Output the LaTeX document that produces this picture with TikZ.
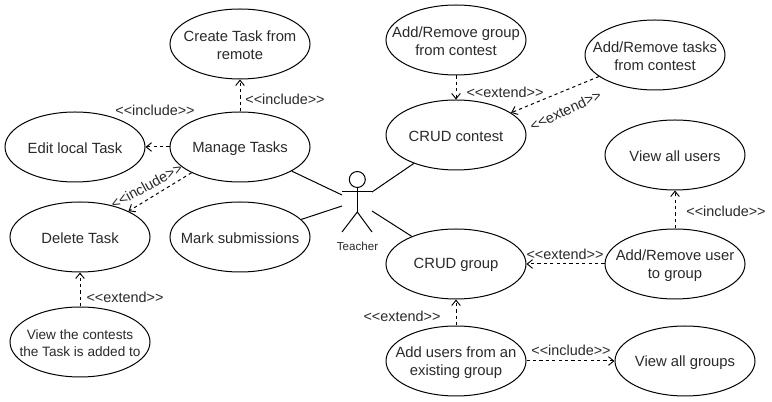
\documentclass[tikz,border=0pt]{standalone}
\usepackage{fontspec}
\setmainfont{Liberation Sans}
\usetikzlibrary{arrows.meta,shapes.geometric}
\definecolor{txt}{HTML}{2A2A2A}
\newcommand{\smallerfont}{\fontsize{10.2pt}{12.75pt}\selectfont}
\tikzset{
  x=0.75pt,y=-0.75pt,
  usecase/.style={draw=black,line width=0.75pt,ellipse,minimum width=105pt,minimum height=52.5pt,inner sep=0pt},
  uctext/.style={align=center,inner sep=0pt,yshift=-1pt,font=\fontsize{11.1pt}{13.5pt}\selectfont,text=txt},
  dep/.style={draw=black,line width=0.75pt,dash pattern=on 2.4pt off 2.4pt,-{Straight Barb[length=4pt,width=6.5pt,line width=0.7pt]}},
  assoc/.style={draw=black,line width=0.75pt},
  lbl/.style={font=\fontsize{10.8pt}{12pt}\selectfont,text=txt,inner sep=0pt,yshift=-0.7pt},
  limb/.style={draw=black,line width=0.75pt},
}
\newcommand{\usecasenode}[3]{%
  \node[usecase] (#1) at #2 {};
  \node[uctext] (#1-text) at (#1.center) {#3};
}
\begin{document}
\begin{tikzpicture}
\useasboundingbox (0,0) rectangle (772,402);
\fill[white] (0,0) rectangle (772,402);
% use cases
\usecasenode{create}{(240,44)}{Create Task from\\remote}
\usecasenode{manage}{(240,147)}{Manage Tasks}
\usecasenode{edit}{(75,147)}{Edit local Task}
\usecasenode{delete}{(80,237)}{Delete Task}
\usecasenode{mark}{(240,237)}{Mark submissions}
\usecasenode{view}{(80,342)}{\smallerfont View the contests\\[-0.4pt]\smallerfont the Task is added to}
\usecasenode{argroup}{(456,40)}{Add/Remove group\\from contest}
\usecasenode{artasks}{(655,55)}{Add/Remove tasks\\from contest}
\usecasenode{contest}{(456,135)}{CRUD contest}
\usecasenode{allusers}{(675,155)}{View all users}
\usecasenode{group}{(456,264)}{CRUD group}
\usecasenode{aruser}{(675,264)}{Add/Remove user\\to group}
\usecasenode{addusers}{(456,361)}{Add users from an\\existing group}
\usecasenode{allgroups}{(685,361)}{View all groups}
% actor
\node[draw=black,line width=0.75pt,circle,minimum size=12pt,inner sep=0pt] (head) at (357.3,179.5) {};
\coordinate (armL) at (342,192);
\coordinate (armR) at (372,192);
\coordinate (hip) at (357.3,212);
\coordinate (legL) at (342,232);
\coordinate (legR) at (372,232);
\coordinate (assocA) at (342,195);
\coordinate (assocB) at (342,206);
\coordinate (assocC) at (372,211);
\draw[limb] (head.south) -- (hip);
\draw[limb] (armL) -- (armR);
\draw[limb] (legL) -- (hip) -- (legR);
\node[font=\fontsize{8.7pt}{11pt}\selectfont,text=txt,inner sep=0pt] (teacher) at (357.5,246) {Teacher};
% associations
\draw[assoc] (manage.-25) -- (assocA);
\draw[assoc] (mark.16.4) -- (assocB);
\draw[assoc] (contest.-146) -- (armR);
\draw[assoc] (group.148.5) -- (assocC);
% dependencies
\draw[dep] (manage.north) -- (create.south);
\draw[dep] (manage.west) -- (edit.east);
\draw[dep] (manage.208.4) -- (delete.28.4);
\draw[dep] (view.north) -- (delete.south);
\draw[dep] (argroup.south) -- (contest.north);
\draw[dep] (artasks.201.8) -- (contest.22.3);
\draw[dep] (aruser.north) -- (allusers.south);
\draw[dep] (aruser.west) -- (group.east);
\draw[dep] (addusers.north) -- (group.south);
\draw[dep] (addusers.east) -- (allgroups.west);
% labels
\node[lbl] (l1) at (155,109.5) {<{}<include>{}>};
\node[lbl] (l2) at (285,98) {<{}<include>{}>};
\node[lbl,rotate=29] (l3) at (146.5,185) {<{}<include>{}>};
\node[lbl] (l4) at (125,296) {<{}<extend>{}>};
\node[lbl] (l5) at (505,91) {<{}<extend>{}>};
\node[lbl,rotate=25] (l6) at (565.5,109.5) {<{}<extend>{}>};
\node[lbl] (l7) at (726,210) {<{}<include>{}>};
\node[lbl] (l8) at (565,253) {<{}<extend>{}>};
\node[lbl] (l9) at (402,315) {<{}<extend>{}>};
\node[lbl] (l10) at (571,349) {<{}<include>{}>};
\end{tikzpicture}
\end{document}
